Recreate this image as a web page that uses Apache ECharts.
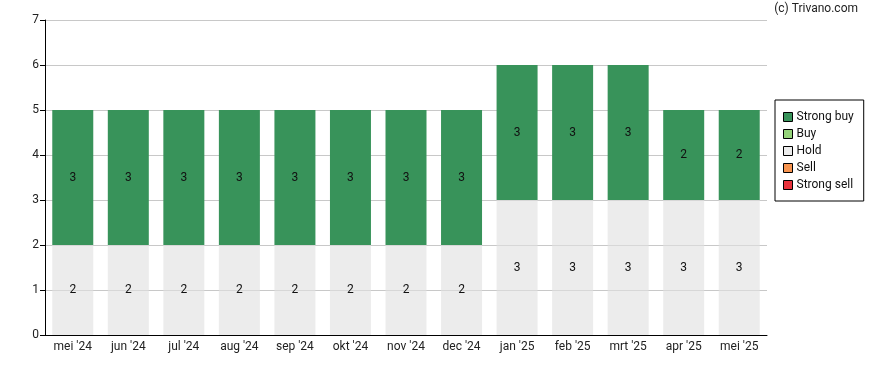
<!DOCTYPE html>
<html><head><meta charset="utf-8">
<script src="https://cdn.jsdelivr.net/npm/echarts@6/dist/echarts.min.js"></script>
<style>html,body{margin:0;padding:0;background:#fff}#c{width:888px;height:370px}</style>
</head><body><div id="c"></div>
<script>
const categories = ["mei '24","jun '24","jul '24","aug '24","sep '24","okt '24","nov '24","dec '24","jan '25","feb '25","mrt '25","apr '25","mei '25"];
const strongBuy = [3,3,3,3,3,3,3,3,3,3,3,2,2];
const buy = [0,0,0,0,0,0,0,0,0,0,0,0,0];
const hold = [2,2,2,2,2,2,2,2,3,3,3,3,3];
const sell = [0,0,0,0,0,0,0,0,0,0,0,0,0];
const strongSell = [0,0,0,0,0,0,0,0,0,0,0,0,0];
const yTicks = [0,1,2,3,4,5,6,7];

const colors = {"Strong buy":"#38935a","Buy":"#95d47a","Hold":"#ececec","Sell":"#f7944f","Strong sell":"#e8323c"};
const font = "Roboto, 'Liberation Sans', sans-serif";
function mk(name, data, extra){
  return Object.assign({
    name, type:'bar', stack:'s', data, barWidth:41,
    itemStyle:{color:colors[name]},
    label:{show:true, position:'inside', color:'#111', fontFamily:font, fontSize:12,
      formatter:p=>p.value>0?String(p.value):''},
    emphasis:{disabled:true}
  }, extra||{});
}
const chart = echarts.init(document.getElementById('c'));
chart.setOption({
  animation:false,
  textStyle:{fontFamily:font},
  grid:{left:45,right:121,top:20,bottom:35,containLabel:false},
  graphic:[{type:'text',right:30,top:3,style:{text:'(c) Trivano.com',font:'12px '+font,fill:'#222'}}],
  legend:{orient:'vertical',left:775,top:100,width:89,padding:[11,10,10,8],itemGap:5,
    itemWidth:9,itemHeight:9,icon:'rect',borderColor:'#000',borderWidth:1,
    textStyle:{fontSize:12,color:'#111',fontFamily:font,padding:[0,0,0,-1]},
    itemStyle:{borderColor:'#000',borderWidth:1},
    data:[{name:'Strong buy',itemStyle:{color:colors['Strong buy']}},'Buy',{name:'Hold',itemStyle:{color:colors['Hold']}},'Sell','Strong sell'],selectedMode:false},
  xAxis:{type:'category',data:categories,
    axisLine:{lineStyle:{color:'#000'}},
    axisTick:{alignWithLabel:true,length:5,lineStyle:{color:'#000'}},
    axisLabel:{color:'#222',fontSize:12,margin:6,fontFamily:font}},
  yAxis:{type:'value',min:yTicks[0],max:yTicks[yTicks.length-1],interval:1,
    axisLine:{show:true,lineStyle:{color:'#000'}},
    axisTick:{show:true,length:5,lineStyle:{color:'#000'}},
    axisLabel:{color:'#222',fontSize:12,margin:6,fontFamily:font},
    splitLine:{lineStyle:{color:'#c8c8c8'}}},
  series:[
    mk('Strong sell',strongSell),
    mk('Sell',sell),
    mk('Hold',hold,{itemStyle:{color:'rgba(224,224,224,0.62)'}}),
    mk('Buy',buy),
    mk('Strong buy',strongBuy)
  ]
});
</script></body></html>
